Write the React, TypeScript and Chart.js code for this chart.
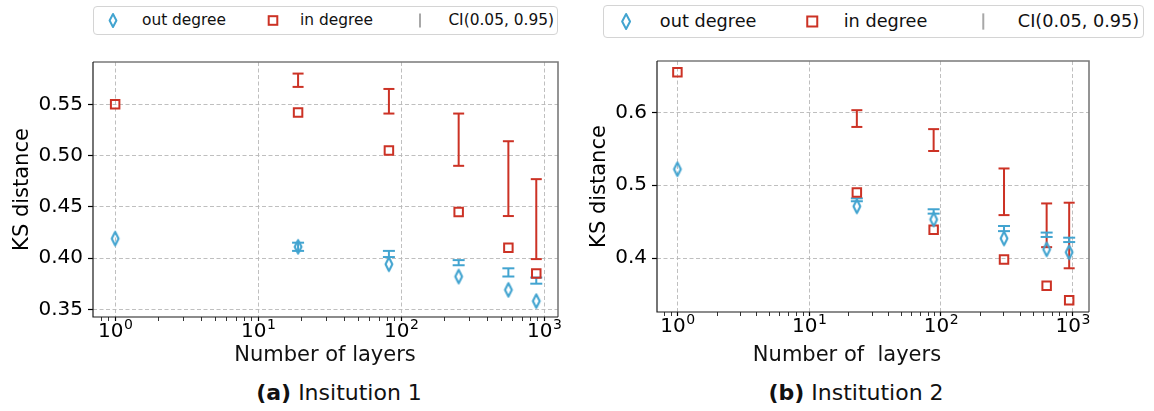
import React, { useEffect, useRef } from 'react';
import { Chart, registerables } from 'chart.js';

Chart.register(...registerables);

// ---------------- data ----------------
const layersA = [1, 19, 82, 252, 561, 879];
const outDegA = [0.419, 0.411, 0.394, 0.382, 0.369, 0.358];
const inDegA = [0.55, 0.542, 0.505, 0.445, 0.41, 0.385];
const outLoA = [null, 0.407, 0.401, 0.393, 0.382, 0.375];
const outHiA = [null, 0.415, 0.407, 0.398, 0.39, 0.381];
const inLoA = [null, 0.567, 0.541, 0.49, 0.441, 0.399];
const inHiA = [null, 0.58, 0.565, 0.541, 0.514, 0.477];

const layersB = [1, 23, 88, 301, 634, 940];
const outDegB = [0.522, 0.471, 0.453, 0.427, 0.412, 0.408];
const inDegB = [0.655, 0.49, 0.439, 0.398, 0.362, 0.342];
const outLoB = [null, 0.478, 0.461, 0.437, 0.429, 0.422];
const outHiB = [null, 0.482, 0.467, 0.444, 0.435, 0.428];
const inLoB = [null, 0.58, 0.547, 0.459, 0.415, 0.386];
const inHiB = [null, 0.603, 0.577, 0.523, 0.475, 0.476];

const xMajorTicks = [1, 10, 100, 1000];
const xMajorBase = ['10', '10', '10', '10'];
const xMajorExp = ['0', '1', '2', '3'];
const yTicksA = [0.35, 0.4, 0.45, 0.5, 0.55];
const yTicksB = [0.4, 0.5, 0.6];

const legendLabels = ['out degree', 'in degree', 'CI(0.05, 0.95)'];
const yTitle = 'KS distance';
const xTitleA = 'Number of layers';
const xTitleB = 'Number of  layers';
const captionA = ['(a)', 'Insitution 1'];
const captionB = ['(b)', 'Institution 2'];

// ---------------- style ----------------
const FONT = '"DejaVu Sans", Verdana, sans-serif';
const BLUE = '#42a4d0';
const RED = '#cc3225';
const GRID = '#b8b8b8';

function makeDiamond(color: string) {
  const c = document.createElement('canvas');
  c.width = 12;
  c.height = 18;
  const g = c.getContext('2d')!;
  g.strokeStyle = color;
  g.lineWidth = 2.1;
  g.lineJoin = 'round';
  g.beginPath();
  g.moveTo(6, 2.3);
  g.lineTo(9.4, 9);
  g.lineTo(6, 15.7);
  g.lineTo(2.6, 9);
  g.closePath();
  g.stroke();
  return c;
}

function segs(xs: number[], lo: (number | null)[], hi: (number | null)[]) {
  const out: any[] = [];
  xs.forEach((x, i) => {
    if (lo[i] == null || hi[i] == null) return;
    out.push({ x, y: lo[i] });
    out.push({ x, y: hi[i] });
    out.push({ x, y: null });
  });
  return out;
}

function caps(xs: number[], lo: (number | null)[], hi: (number | null)[]) {
  const out: any[] = [];
  xs.forEach((x, i) => {
    if (lo[i] == null || hi[i] == null) return;
    out.push({ x, y: lo[i] });
    out.push({ x, y: hi[i] });
  });
  return out;
}

function isMajor(v: number) {
  if (!(v > 0)) return false;
  const l = Math.log10(v);
  return Math.abs(l - Math.round(l)) < 1e-9;
}

const framePlugin = {
  id: 'frame',
  afterDatasetsDraw(chart: any) {
    const { ctx, chartArea: a } = chart;
    ctx.save();
    ctx.lineWidth = 1.6;
    ctx.strokeStyle = '#7a7a7a';
    ctx.beginPath();
    ctx.moveTo(a.left, a.top);
    ctx.lineTo(a.right, a.top);
    ctx.lineTo(a.right, a.bottom);
    ctx.stroke();
    ctx.lineWidth = 1.2;
    ctx.strokeStyle = '#1a1a1a';
    ctx.beginPath();
    ctx.moveTo(a.left, a.top);
    ctx.lineTo(a.left, a.bottom);
    ctx.lineTo(a.right, a.bottom);
    ctx.stroke();
    ctx.restore();
  },
};

// power-of-ten tick labels with a real superscript, placed through the x scale
const powerLabelPlugin = {
  id: 'powerLabels',
  afterDraw(chart: any) {
    const { ctx, chartArea: a } = chart;
    const sx = chart.scales.x;
    ctx.save();
    ctx.fillStyle = '#000';
    ctx.textBaseline = 'alphabetic';
    ctx.textAlign = 'left';
    xMajorTicks.forEach((v, i) => {
      if (v < sx.min || v > sx.max) return;
      const px = sx.getPixelForValue(v);
      ctx.font = `20px ${FONT}`;
      const wb = ctx.measureText(xMajorBase[i]).width;
      ctx.font = `14px ${FONT}`;
      const we = ctx.measureText(xMajorExp[i]).width;
      const x0 = px - (wb + we) / 2;
      const base = a.bottom + 20;
      ctx.font = `20px ${FONT}`;
      ctx.fillText(xMajorBase[i], x0, base);
      ctx.font = `14px ${FONT}`;
      ctx.fillText(xMajorExp[i], x0 + wb + 0.5, base - 8);
    });
    ctx.restore();
  },
};

type PanelProps = {
  left: number; top: number; width: number; height: number;
  padTop: number; padRight: number; yWidth: number; xHeight: number;
  xMin: number; xMax: number; yMin: number; yMax: number;
  yTicks: number[]; yDec: number; titlePad: number;
  xs: number[]; outDeg: number[]; inDeg: number[];
  outLo: (number | null)[]; outHi: (number | null)[];
  inLo: (number | null)[]; inHi: (number | null)[];
};

function Panel(p: PanelProps) {
  const ref = useRef<HTMLCanvasElement>(null);
  useEffect(() => {
    const diamond = makeDiamond(BLUE);
    const xTickList: number[] = [];
    for (let e = -1; e <= 3; e++) {
      for (let m = 1; m <= 9; m++) {
        const v = m * Math.pow(10, e);
        if (v >= p.xMin && v <= p.xMax) xTickList.push(Number(v.toPrecision(6)));
      }
    }
    const chart = new Chart(ref.current!, {
      type: 'scatter',
      data: {
        datasets: [
          {
            label: 'out',
            data: p.xs.map((x, i) => ({ x, y: p.outDeg[i] })),
            pointStyle: diamond as any,
            pointRadius: 7,
            showLine: false,
          },
          {
            label: 'in',
            data: p.xs.map((x, i) => ({ x, y: p.inDeg[i] })),
            pointStyle: 'rect',
            pointRadius: 6,
            borderWidth: 2,
            borderColor: RED,
            backgroundColor: 'rgba(0,0,0,0)',
            showLine: false,
          },
          {
            label: 'outCap',
            data: caps(p.xs, p.outLo, p.outHi),
            pointStyle: 'line',
            pointRadius: 6,
            borderWidth: 2,
            borderColor: BLUE,
            showLine: false,
          },
          {
            label: 'outSeg',
            data: segs(p.xs, p.outLo, p.outHi),
            showLine: true,
            spanGaps: false,
            pointRadius: 0,
            borderWidth: 2,
            borderColor: BLUE,
          },
          {
            label: 'inCap',
            data: caps(p.xs, p.inLo, p.inHi),
            pointStyle: 'line',
            pointRadius: 5.5,
            borderWidth: 2,
            borderColor: RED,
            showLine: false,
          },
          {
            label: 'inSeg',
            data: segs(p.xs, p.inLo, p.inHi),
            showLine: true,
            spanGaps: false,
            pointRadius: 0,
            borderWidth: 2,
            borderColor: RED,
          },
        ],
      },
      options: {
        animation: false,
        responsive: false,
        maintainAspectRatio: false,
        events: [],
        layout: { padding: { top: p.padTop, right: p.padRight, left: 0, bottom: 0 } },
        plugins: { legend: { display: false }, tooltip: { enabled: false }, title: { display: false } },
        scales: {
          x: {
            type: 'logarithmic',
            min: p.xMin,
            max: p.xMax,
            afterBuildTicks: (s: any) => {
              s.ticks = xTickList.map((v) => ({ value: v }));
            },
            ticks: {
              autoSkip: false,
              maxRotation: 0,
              minRotation: 0,
              padding: 1,
              color: '#000',
              font: { family: FONT, size: 20 },
              callback: () => '',
            },
            grid: {
              color: (c: any) => (c.tick && isMajor(c.tick.value) ? GRID : 'rgba(0,0,0,0)'),
              lineWidth: 0.9,
              tickColor: '#000',
              tickLength: 4,
              tickWidth: (c: any) => (c.tick && isMajor(c.tick.value) ? 1.2 : 0.8),
            },
            border: { display: false, dash: [4, 2.5] },
            afterFit: (s: any) => {
              s.height = p.xHeight;
            },
          },
          y: {
            type: 'linear',
            min: p.yMin,
            max: p.yMax,
            afterBuildTicks: (s: any) => {
              s.ticks = p.yTicks.map((v) => ({ value: v }));
            },
            ticks: {
              padding: 5,
              color: '#000',
              font: { family: FONT, size: 20 },
              callback: (v: any) => Number(v).toFixed(p.yDec),
            },
            grid: {
              color: GRID,
              lineWidth: 0.9,
              tickColor: '#000',
              tickLength: 5,
              tickWidth: 1.2,
            },
            border: { display: false, dash: [4, 2.5] },
            title: {
              display: true,
              text: yTitle,
              color: '#000',
              font: { family: FONT, size: 21 },
              padding: { top: p.titlePad, bottom: 0 },
            },
            afterFit: (s: any) => {
              s.width = p.yWidth;
            },
          },
        },
      },
      plugins: [framePlugin, powerLabelPlugin],
    } as any);
    return () => chart.destroy();
  }, []);
  return (
    <canvas
      ref={ref}
      width={p.width}
      height={p.height}
      style={{ position: 'absolute', left: p.left, top: p.top, width: p.width, height: p.height }}
    />
  );
}

function Legend({ left, top, width, height, fontSize }: any) {
  const s = width / 465;
  const cy = (height - 2) / 2;
  const txt: React.CSSProperties = {
    position: 'absolute',
    top: 0,
    lineHeight: `${height - 2}px`,
    whiteSpace: 'pre',
  };
  const dx = 19 * s;
  const sx = 179 * s;
  const lx = 326 * s;
  return (
    <div
      style={{
        position: 'absolute',
        left,
        top,
        width,
        height,
        boxSizing: 'border-box',
        border: '1px solid #d4d4d4',
        borderRadius: 4,
        fontFamily: FONT,
        fontSize,
        color: '#111',
        background: '#fff',
      }}
    >
      <svg width={width - 2} height={height - 2} style={{ position: 'absolute', left: 0, top: 0 }}>
        <path
          d={`M ${dx} ${cy - 6.5 * s} L ${dx + 3.4 * s} ${cy} L ${dx} ${cy + 6.5 * s} L ${dx - 3.4 * s} ${cy} Z`}
          fill="none"
          stroke={BLUE}
          strokeWidth={2}
          strokeLinejoin="round"
        />
        <rect x={sx - 4.3 * s} y={cy - 4.3 * s} width={8.6 * s} height={8.6 * s} fill="none" stroke={RED} strokeWidth={2} />
        <line x1={lx} x2={lx} y1={cy - 7 * s} y2={cy + 7 * s} stroke="#a8a8a8" strokeWidth={2} />
      </svg>
      <span style={{ ...txt, left: 48 * s }}>{legendLabels[0]}</span>
      <span style={{ ...txt, left: 206 * s }}>{legendLabels[1]}</span>
      <span style={{ ...txt, right: width - 2 - 460 * s }}>{legendLabels[2]}</span>
    </div>
  );
}

function CenterText({ cx, top, size, children }: any) {
  return (
    <div
      style={{
        position: 'absolute',
        left: cx - 250,
        width: 500,
        top,
        textAlign: 'center',
        fontFamily: FONT,
        fontSize: size,
        lineHeight: 1,
        whiteSpace: 'pre',
        color: '#111',
      }}
    >
      {children}
    </div>
  );
}

export default function App() {
  return (
    <div style={{ position: 'absolute', left: 0, top: 0, width: 1154, height: 411, background: '#fff', overflow: 'hidden' }}>
      <Panel
        left={0} top={40} width={580} height={330}
        padTop={22} padRight={22} yWidth={93} xHeight={53}
        xMin={0.71} xMax={1247} yMin={0.3425} yMax={0.5913}
        yTicks={yTicksA} yDec={2} titlePad={10}
        xs={layersA} outDeg={outDegA} inDeg={inDegA}
        outLo={outLoA} outHi={outHiA} inLo={inLoA} inHi={inHiA}
      />
      <Panel
        left={580} top={40} width={574} height={330}
        padTop={21} padRight={65} yWidth={77} xHeight={58}
        xMin={0.706} xMax={1329} yMin={0.326} yMax={0.6705}
        yTicks={yTicksB} yDec={1} titlePad={7}
        xs={layersB} outDeg={outDegB} inDeg={inDegB}
        outLo={outLoB} outHi={outHiB} inLo={inLoB} inHi={inHiB}
      />
      <Legend left={93} top={6} width={465} height={29} fontSize={15.4} />
      <Legend left={603} top={5} width={541} height={33} fontSize={17.7} />
      <CenterText cx={325} top={344} size={21}>{xTitleA}</CenterText>
      <CenterText cx={847} top={344} size={21}>{xTitleB}</CenterText>
      <CenterText cx={339} top={382} size={22}>
        <b>{captionA[0]}</b> {captionA[1]}
      </CenterText>
      <CenterText cx={856} top={382} size={22}>
        <b>{captionB[0]}</b> {captionB[1]}
      </CenterText>
    </div>
  );
}
